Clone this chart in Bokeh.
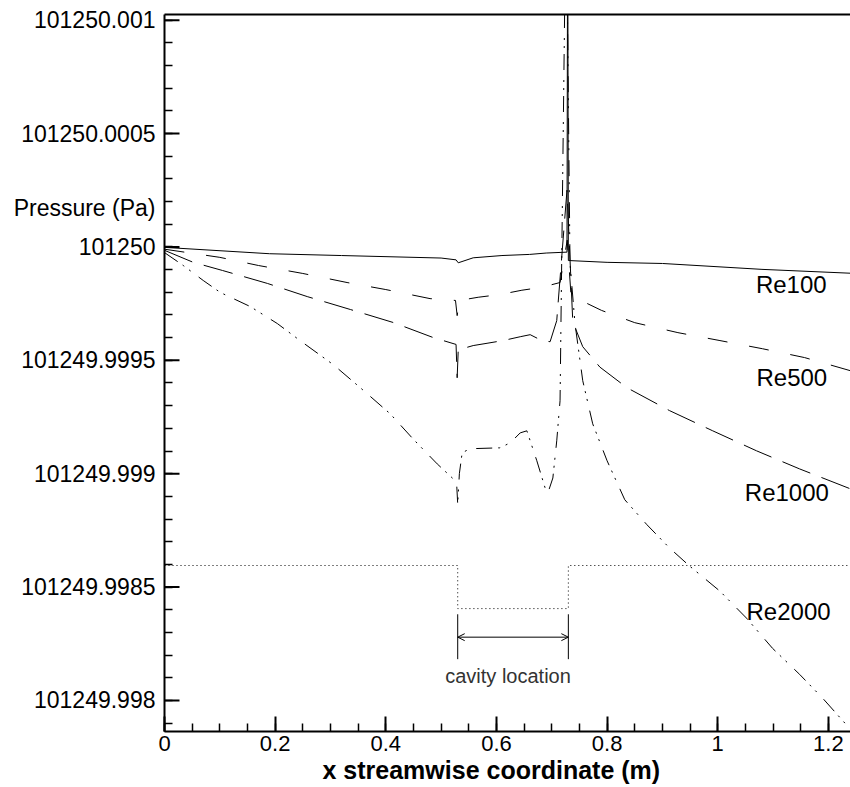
from bokeh.plotting import figure
from bokeh.models import FixedTicker, LinearAxis, Range1d, Label, Arrow, OpenHead, Title
from bokeh.embed import file_html
from bokeh.resources import INLINE

# ---------------- data ----------------
# x: streamwise coordinate (m); dp: pressure minus 101250 Pa (Pa)
re100_x = [0.0, 0.19, 0.32, 0.50, 0.527, 0.531, 0.558, 0.61, 0.66, 0.69, 0.7275, 0.7288, 0.7300, 0.80, 0.90, 1.08, 1.24]
re100_dp = [-0.002e-3, -0.030e-3, -0.038e-3, -0.049e-3, -0.057e-3, -0.070e-3, -0.048e-3, -0.038e-3,
            -0.033e-3, -0.027e-3, -0.023e-3, 1.60e-3, -0.060e-3, -0.068e-3, -0.073e-3, -0.099e-3, -0.116e-3]

re500_x = [0.0, 0.10, 0.17, 0.25, 0.33, 0.40, 0.48, 0.526, 0.529, 0.533, 0.567, 0.606, 0.646, 0.682,
           0.715, 0.728, 0.735, 0.756, 0.79, 0.85, 0.928, 1.004, 1.081, 1.157, 1.24]
re500_dp = [-0.010e-3, -0.046e-3, -0.082e-3, -0.117e-3, -0.157e-3, -0.188e-3, -0.228e-3, -0.236e-3,
            -0.303e-3, -0.236e-3, -0.222e-3, -0.210e-3, -0.191e-3, -0.178e-3, -0.157e-3, 0.030e-3,
            -0.220e-3, -0.240e-3, -0.280e-3, -0.334e-3, -0.378e-3, -0.413e-3, -0.449e-3, -0.488e-3, -0.546e-3]

re1000_x = [0.0, 0.052, 0.105, 0.186, 0.258, 0.336, 0.413, 0.486, 0.527, 0.529, 0.531, 0.538, 0.558,
            0.583, 0.612, 0.643, 0.661, 0.682, 0.697, 0.709, 0.7275, 0.738, 0.756, 0.787, 0.836, 0.913,
            0.991, 1.070, 1.148, 1.24]
re1000_dp = [-0.015e-3, -0.068e-3, -0.104e-3, -0.161e-3, -0.219e-3, -0.276e-3, -0.333e-3, -0.400e-3,
             -0.430e-3, -0.577e-3, -0.450e-3, -0.449e-3, -0.435e-3, -0.425e-3, -0.413e-3, -0.396e-3,
             -0.387e-3, -0.413e-3, -0.418e-3, -0.325e-3, 0.250e-3, -0.330e-3, -0.440e-3, -0.530e-3,
             -0.621e-3, -0.722e-3, -0.811e-3, -0.899e-3, -0.979e-3, -1.067e-3]

re2000_x = [0.0, 0.034, 0.070, 0.101, 0.155, 0.204, 0.245, 0.305, 0.354, 0.408, 0.449, 0.493, 0.522,
            0.528, 0.530, 0.533, 0.538, 0.552, 0.606, 0.625, 0.643, 0.655, 0.673, 0.688, 0.693, 0.702,
            0.709, 0.715, 0.726, 0.733, 0.742, 0.756, 0.774, 0.800, 0.832, 0.872, 0.913, 0.949, 1.004,
            1.052, 1.099, 1.148, 1.190, 1.235]
re2000_dp = [-0.025e-3, -0.082e-3, -0.148e-3, -0.201e-3, -0.263e-3, -0.338e-3, -0.413e-3, -0.519e-3,
             -0.621e-3, -0.736e-3, -0.846e-3, -0.957e-3, -1.023e-3, -1.040e-3, -1.134e-3, -1.000e-3,
             -0.908e-3, -0.890e-3, -0.886e-3, -0.864e-3, -0.820e-3, -0.811e-3, -0.943e-3, -1.063e-3,
             -1.085e-3, -1.019e-3, -0.855e-3, -0.678e-3, 1.60e-3, -0.073e-3, -0.338e-3, -0.590e-3,
             -0.780e-3, -0.943e-3, -1.115e-3, -1.225e-3, -1.328e-3, -1.407e-3, -1.518e-3, -1.637e-3,
             -1.770e-3, -1.885e-3, -1.991e-3, -2.114e-3]

# cavity geometry sketch (dotted)
cavity_x = [0.0, 0.53, 0.53, 0.73, 0.73, 1.24]
cavity_y = [-1.405e-3, -1.405e-3, -1.595e-3, -1.595e-3, -1.405e-3, -1.405e-3]
cavity_start, cavity_end = 0.53, 0.73

series_names = ["Re100", "Re500", "Re1000", "Re2000"]

y_ticks = [1.0e-3, 0.5e-3, 0.0, -0.5e-3, -1.0e-3, -1.5e-3, -2.0e-3]
y_tick_labels = ["101250.001", "101250.0005", "101250", "101249.9995",
                 "101249.999", "101249.9985", "101249.998"]
y_title = "Pressure (Pa)"
y_title_pos = 0.172e-3
x_ticks = [0.0, 0.2, 0.4, 0.6, 0.8, 1.0, 1.2]
x_tick_labels = ["0", "0.2", "0.4", "0.6", "0.8", "1", "1.2"]
x_title = "x streamwise coordinate (m)"

# ---------------- figure ----------------
FONT = "Liberation Sans"
W, H = 850, 787
LEFT, TOP, BOTTOM = 164, 14, 56
X0, X1 = 0.0, 1.24
Y0, Y1 = -2.137e-3, 1.025e-3

p = figure(width=W, height=H, output_backend="svg", toolbar_location=None,
           x_range=Range1d(X0, X1), y_range=Range1d(Y0, Y1),
           min_border_left=LEFT, min_border_right=0, min_border_top=TOP, min_border_bottom=BOTTOM,
           background_fill_color="white", border_fill_color="white")
p.outline_line_color = None
p.xgrid.visible = False
p.ygrid.visible = False

# y axis (major tick marks drawn below as inward segments so the title can sit on the axis)
ya = p.yaxis[0]
ya.ticker = FixedTicker(ticks=y_ticks + [y_title_pos],
                        minor_ticks=[i * 1e-4 for i in range(-21, 11)])
overrides = dict(zip(y_ticks, y_tick_labels))
overrides[y_title_pos] = y_title
ya.major_label_overrides = overrides
ya.major_label_text_font = FONT
ya.major_label_text_font_size = "23px"
ya.major_label_text_color = "black"
ya.major_label_standoff = 9
ya.axis_line_width = 2
ya.axis_line_color = "black"
ya.major_tick_in = 0
ya.major_tick_out = 0
ya.minor_tick_in = 8
ya.minor_tick_out = 0
ya.minor_tick_line_width = 1.5

# x axis
xa = p.xaxis[0]
xa.ticker = FixedTicker(ticks=x_ticks, minor_ticks=[i * 0.05 for i in range(0, 25)])
xa.major_label_overrides = dict(zip(x_ticks, x_tick_labels))
xa.major_label_text_font = FONT
xa.major_label_text_font_size = "22px"
xa.major_label_text_color = "black"
xa.major_label_standoff = 4
xa.axis_line_width = 2
xa.axis_line_color = "black"
xa.major_tick_in = 15
xa.major_tick_out = 0
xa.minor_tick_in = 8
xa.minor_tick_out = 0
xa.major_tick_line_width = 2
xa.minor_tick_line_width = 1.5

# x title, placed left-aligned with an offset as in the reference
p.add_layout(Title(text=x_title, align="left", offset=158, standoff=0,
                   text_font=FONT, text_font_size="25px", text_font_style="bold",
                   text_color="black"), "below")

# top border as an empty axis
top = LinearAxis(ticker=FixedTicker(ticks=[]), axis_line_width=2, axis_line_color="black",
                 major_tick_in=0, major_tick_out=0, minor_tick_in=0, minor_tick_out=0,
                 major_label_standoff=0, major_label_text_font_size="0px")
p.add_layout(top, "above")

# inward major tick marks of the y axis (15 px long)
tick_len = 15 * (X1 - X0) / (W - LEFT)
p.segment(x0=[X0] * len(y_ticks), y0=y_ticks, x1=[X0 + tick_len] * len(y_ticks), y1=y_ticks,
          line_color="black", line_width=2)

# curves
p.line(re100_x, re100_dp, line_color="black", line_width=1)
p.line(re500_x, re500_dp, line_color="black", line_width=1, line_dash="20 22")
p.line(re1000_x, re1000_dp, line_color="black", line_width=1, line_dash="30 12")
p.line(re2000_x, re2000_dp, line_color="black", line_width=1, line_dash="16 6 2 6 2 10")
p.line(cavity_x, cavity_y, line_color="black", line_width=1, line_dash="1 3")

# cavity location marker
p.segment(x0=[cavity_start, cavity_end], y0=[-1.620e-3, -1.620e-3],
          x1=[cavity_start, cavity_end], y1=[-1.818e-3, -1.818e-3],
          line_color="black", line_width=1)
p.add_layout(Arrow(start=OpenHead(size=7, line_width=1, line_color="black"),
                   end=OpenHead(size=7, line_width=1, line_color="black"),
                   x_start=cavity_start, x_end=cavity_end, y_start=-1.721e-3, y_end=-1.721e-3,
                   line_width=1, line_color="black"))
p.add_layout(Label(x=(cavity_start + cavity_end) / 2 - 0.009, y=-1.893e-3, text="cavity location",
                   text_font=FONT, text_font_size="20px", text_color="#333333",
                   text_align="center", text_baseline="middle"))

# series labels
label_pos = [(1.133, -0.165e-3), (1.134, -0.575e-3), (1.125, -1.084e-3), (1.128, -1.608e-3)]
for name, (lx, ly) in zip(series_names, label_pos):
    p.add_layout(Label(x=lx, y=ly, text=name, text_font=FONT, text_font_size="24px",
                       text_color="black", text_align="center", text_baseline="middle"))

open("out.html", "w").write(file_html(p, INLINE))
